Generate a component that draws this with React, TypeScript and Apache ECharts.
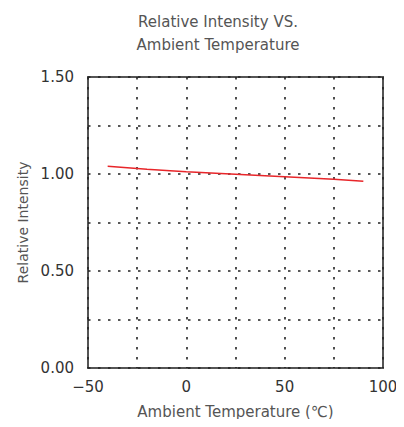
import React, { useEffect, useRef } from "react";
import * as echarts from "echarts";

const temperatures = [-40, -20, 0, 25, 50, 75, 90];
const intensity = [1.04, 1.025, 1.012, 0.999, 0.986, 0.973, 0.963];
const xTickLabels = ["−50", "0", "50", "100"];
const yTickLabels = ["0.00", "0.50", "1.00", "1.50"];

export default function App() {
  const ref = useRef<HTMLDivElement>(null);
  useEffect(() => {
    if (!ref.current) return;
    const chart = echarts.init(ref.current, undefined, { renderer: "svg" });
    const font = "'DejaVu Sans', Verdana, sans-serif";
    chart.setOption({
      animation: false,
      title: {
        text: "Relative Intensity VS.\nAmbient Temperature",
        left: 213,
        top: 5,
        textAlign: "center",
        textStyle: {
          fontFamily: font,
          fontSize: 15,
          fontWeight: "normal",
          color: "#555",
          lineHeight: 23,
        },
      },
      grid: {
        left: 88,
        right: 21,
        top: 77,
        bottom: 59,
        show: true,
        borderColor: "#555",
        borderWidth: 2,
        backgroundColor: "transparent",
      },
      xAxis: {
        type: "value",
        min: -50,
        max: 100,
        interval: 25,
        name: "Ambient Temperature (℃)",
        nameLocation: "middle",
        nameGap: 36,
        nameTextStyle: { fontFamily: font, fontSize: 15, color: "#555" },
        axisLine: { show: false },
        axisTick: { show: false },
        axisLabel: {
          fontFamily: font,
          fontSize: 15,
          color: "#333",
          margin: 11,
          formatter: (v: number) => {
            const idx = [-50, 0, 50, 100].indexOf(v);
            return idx >= 0 ? xTickLabels[idx] : "";
          },
        },
        splitLine: {
          show: true,
          lineStyle: { type: [2.5, 7.5], color: "#222", width: 1.6 },
        },
      },
      yAxis: {
        type: "value",
        min: 0,
        max: 1.5,
        interval: 0.25,
        name: "Relative Intensity",
        nameLocation: "middle",
        nameGap: 58,
        nameTextStyle: { fontFamily: font, fontSize: 14, color: "#555" },
        axisLine: { show: false },
        axisTick: { show: false },
        axisLabel: {
          fontFamily: font,
          fontSize: 15,
          color: "#333",
          margin: 14,
          formatter: (v: number) => {
            const idx = [0, 0.5, 1, 1.5].indexOf(Math.round(v * 100) / 100);
            return idx >= 0 ? yTickLabels[idx] : "";
          },
        },
        splitLine: {
          show: true,
          lineStyle: { type: [2.5, 7.5], color: "#222", width: 1.6 },
        },
      },
      series: [
        {
          type: "line",
          data: temperatures.map((t, i) => [t, intensity[i]]),
          showSymbol: false,
          smooth: true,
          lineStyle: { color: "#e8262a", width: 1.5 },
        },
      ],
    });
    return () => chart.dispose();
  }, []);
  return <div ref={ref} style={{ width: 404, height: 427, margin: -8 }} />;
}
